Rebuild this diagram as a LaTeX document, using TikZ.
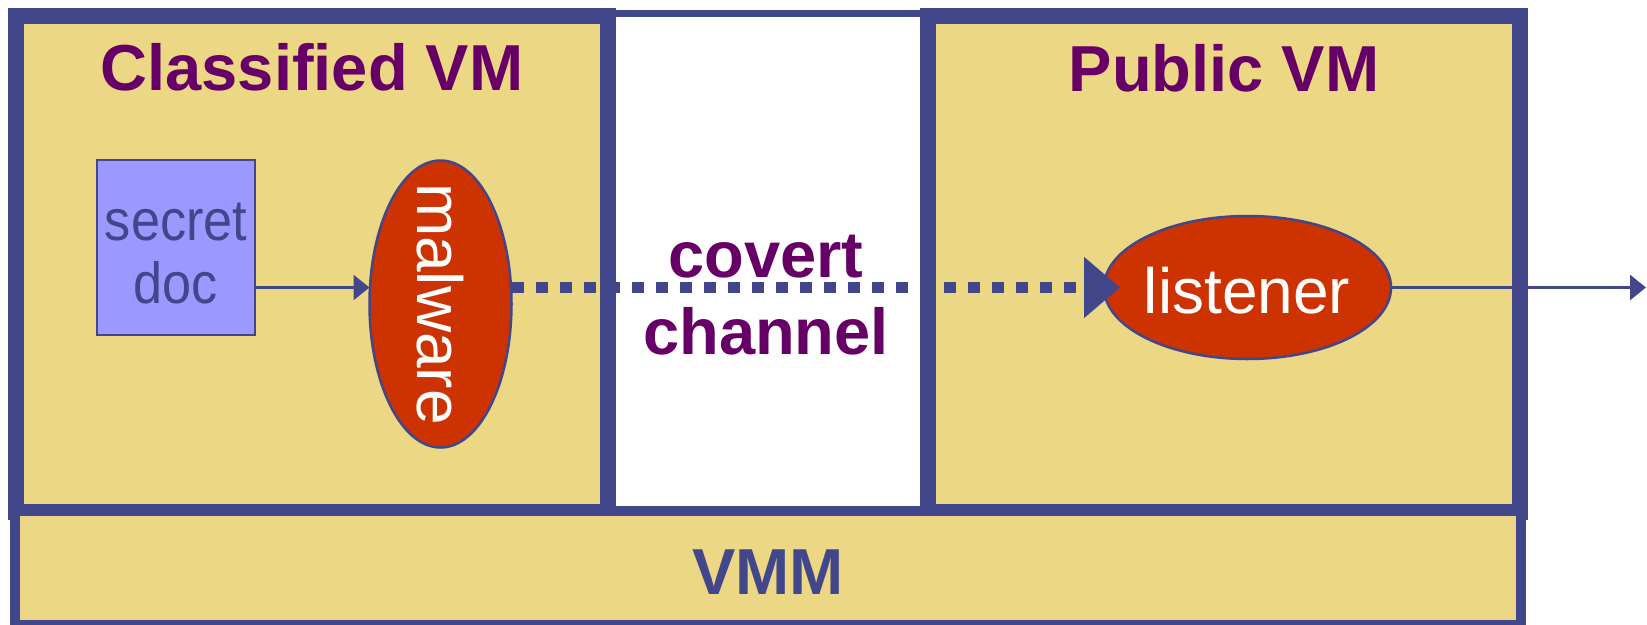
\documentclass[tikz,border=0pt]{standalone}
\usepackage{fontspec}
\setmainfont{Liberation Sans}
\newfontfamily\narrowfont[FakeStretch=0.9]{Liberation Sans}
\usetikzlibrary{arrows.meta,shapes.geometric}
\definecolor{vmborder}{RGB}{66,70,138}
\definecolor{vmyellow}{RGB}{235,215,132}
\definecolor{titlepurple}{RGB}{102,0,102}
\definecolor{procred}{RGB}{204,51,0}
\definecolor{docblue}{RGB}{153,153,255}
\begin{document}
\begin{tikzpicture}[x=1pt,y=-1pt,
  vmbox/.style={rectangle, draw=vmborder, line width=16pt, fill=vmyellow, inner sep=0pt, outer sep=0pt,
    minimum width=592pt, minimum height=496pt},
  gapbox/.style={rectangle, draw=vmborder, line width=7pt, fill=white, inner sep=0pt, outer sep=0pt,
    minimum width=312pt, minimum height=496.5pt},
  vmmbox/.style={rectangle, draw=vmborder, line width=10pt, fill=vmyellow, inner sep=0pt, outer sep=0pt,
    minimum width=1506pt, minimum height=114pt},
  title/.style={font=\bfseries\fontsize{65}{77}\selectfont, text=titlepurple, inner sep=0pt},
  proc/.style={ellipse, draw=vmborder, line width=2.5pt, fill=procred, inner sep=0pt, outer sep=0pt},
  proclabel/.style={text=white, font=\fontsize{64}{77}\selectfont, inner sep=0pt},
  docbox/.style={rectangle, draw=vmborder, line width=2.5pt, fill=docblue, inner sep=0pt,
    minimum width=158pt, minimum height=175pt},
  doclabel/.style={text=vmborder, align=center, font=\narrowfont\fontsize{58}{63}\selectfont, inner sep=0pt},
  flow/.style={draw=vmborder, line width=2.5pt, -{Triangle[length=16pt,width=25pt]}},
  covertflow/.style={draw=vmborder, line width=11pt, dash pattern=on 12pt off 12pt,
    -{Triangle[length=36pt,width=59pt]}, shorten >=-16pt}
]
\useasboundingbox (0,0) rectangle (1647,624);

% boxes
\node[gapbox] (gap) at (768,261.75) {};
\node[vmbox] (classified) at (312,264) {};
\node[vmbox] (public) at (1224,264) {};
\node[vmmbox] (vmm) at (768,568) {};

% labels
\node[title, anchor=base] (classtitle) at (312,90) {Classified VM};
\node[title, anchor=base] (pubtitle) at (1224,91) {Public VM};
\node[title, align=center] (covertlbl) at (766,295) {covert\\channel};
\node[font=\bfseries\fontsize{65}{77}\selectfont, text=vmborder, inner sep=0pt, anchor=base] (vmmlbl) at (768,594) {VMM};

% inner nodes
\node[docbox] (secret) at (176,247.5) {};
\node[doclabel] (secrettext) at (176,254) {secret\\doc};
\node[proc, minimum width=142pt, minimum height=287pt] (malware) at (440.5,304) {};
\node[proclabel, rotate=-90] (malwaretext) at (malware.center) {malware};
\node[proc, minimum width=287pt, minimum height=143pt] (listener) at (1247.5,287.5) {};
\node[proclabel] (listenertext) at (1247,290.5) {listener};
\coordinate (exit) at (1646,287.5);

% connectors
\draw[flow] (secret.east |- listener.west) -- (malware.west |- listener.west);
\draw[covertflow] (malware.east |- listener.west) -- (listener.west);
\draw[flow] (listener.east) -- (exit);
\end{tikzpicture}
\end{document}
